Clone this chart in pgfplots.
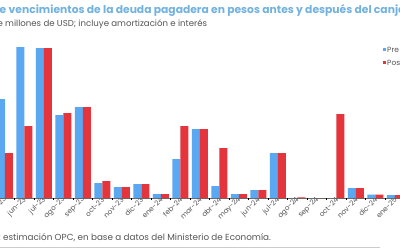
\documentclass[border=0pt]{standalone}
\usepackage{fontspec}
\setmainfont{Poppins}
\usepackage{pgfplots}
\pgfplotsset{compat=1.18}
\usepackage{pgfplotstable}
\definecolor{preblue}{HTML}{5AA7F2}
\definecolor{postred}{HTML}{E3353B}
\definecolor{titleblue}{HTML}{72B2DF}
\definecolor{subgray}{HTML}{555555}
\pgfplotstableread{
i pre post
0 127 57
1 99 45
2 151 72
3 150 150
4 83 85
5 91 91
6 15 17
7 11 11
8 14 14
9 4 4
10 39 72
11 69 69
12 12 50
13 4 4
14 8 8
15 45 45
16 0 0.7
17 0 0
18 0 84
19 10 10
20 3.5 3.5
21 3 3
}\datatable
\begin{document}
\begin{tikzpicture}[x=1pt,y=1pt]
\useasboundingbox (0,0) rectangle (400,250);
\begin{scope}
\clip (0,0) rectangle (400,250);
\fill[white] (0,0) rectangle (400,250);
% title
\node[anchor=base east, inner sep=0pt, font=\fontsize{10.75}{12}\selectfont\bfseries, text=titleblue] at (6.5,237) {Perfil de};
\node[anchor=base west, inner sep=0pt, font=\fontsize{10.75}{12}\selectfont\bfseries, text=titleblue] at (8.5,237) {vencimientos de la deuda pagadera en pesos antes y después del canje};
% subtitle
\node[anchor=base east, inner sep=0pt, font=\fontsize{8.6}{10}\selectfont, text=subgray] at (3.2,223.5) {Miles de};
\node[anchor=base west, inner sep=0pt, font=\fontsize{8.6}{10}\selectfont, text=subgray] at (5,223.5) {millones de USD; incluye amortización e interés};
\begin{axis}[
  at={(-17.5,52)}, anchor=south west,
  scale only axis, width=448.5pt, height=160pt,
  xmin=-1, xmax=22, ymin=0, ymax=160,
  ybar=0pt, bar width=8pt,
  axis y line=none, axis x line*=bottom,
  axis line style={draw=gray!80!black, line width=0.6pt},
  xtick={0,...,21},
  xticklabels={abr-23,may-23,jun-23,jul-23,ago-23,sep-23,oct-23,nov-23,dic-23,ene-24,feb-24,mar-24,abr-24,may-24,jun-24,jul-24,ago-24,sep-24,oct-24,nov-24,dic-24,ene-25},
  major tick length=0pt,
  xticklabel style={rotate=45, anchor=east, inner sep=1pt, font=\fontsize{7}{8}\selectfont, text=subgray, yshift=-1pt, xshift=1pt},
  extra x ticks={-0.5,0.5,...,21.5},
  extra x tick labels={},
  extra x tick style={major tick length=2pt, tick align=outside, tick style={black, line width=0.6pt}},
  clip=false,
]
\addplot[fill=preblue, draw=none] table[x=i, y=pre] {\datatable};
\addplot[fill=postred, draw=none] table[x=i, y=post] {\datatable};
\end{axis}
% legend
\fill[preblue] (382.5,199) rectangle (385.5,202);
\node[anchor=base west, inner sep=0pt, font=\fontsize{7.5}{8}\selectfont, text=subgray] at (387,197.5) {Pre canje};
\fill[postred] (382.5,186) rectangle (385.5,189);
\node[anchor=base west, inner sep=0pt, font=\fontsize{7.5}{8}\selectfont, text=subgray] at (387,184.5) {Post canje};
% footer
\node[anchor=base east, inner sep=0pt, font=\fontsize{8.8}{10}\selectfont, text=subgray] at (1,9.3) {Fuente:};
\node[anchor=base west, inner sep=0pt, font=\fontsize{8.8}{10}\selectfont, text=subgray] at (3,9.3) {estimación OPC, en base a datos del Ministerio de Economía.};
\draw[gray!40, line width=1pt] (0,3) -- (380,3);
\end{scope}
\end{tikzpicture}
\end{document}
